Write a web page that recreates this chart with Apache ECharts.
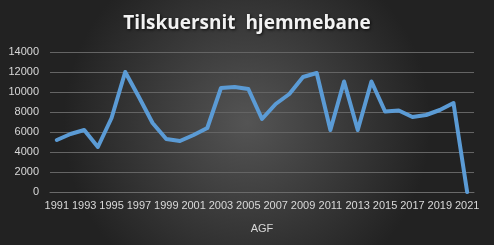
<!DOCTYPE html>
<html><head><meta charset="utf-8">
<script src="https://cdn.jsdelivr.net/npm/echarts@6/dist/echarts.min.js"></script>
<style>html,body{margin:0;padding:0;background:#333;}#c{width:494px;height:245px;}</style>
</head><body><div id="c"></div>
<script>
const years = ['1991','1992','1993','1994','1995','1996','1997','1998','1999','2000','2001','2002','2003','2004','2005','2006','2007','2008','2009','2010','2011','2012','2013','2014','2015','2016','2017','2018','2019','2020','2021'];
const attendance = [5200,5800,6200,4500,7400,12000,9500,6900,5300,5100,5700,6400,10400,10500,10300,7300,8800,9800,11500,11900,6200,11050,6200,11050,8050,8150,7500,7700,8200,8900,0];
const titleText = 'Tilskuersnit  hjemmebane';
const axisTitle = 'AGF';
const yMin = 0, yMax = 14000, yStep = 2000;

const chart = echarts.init(document.getElementById('c'), null, {renderer:'canvas'});
chart.setOption({
  backgroundColor: {type:'radial', x:0.5, y:0.5, r:0.75, colorStops:[{offset:0,color:'#545454'},{offset:1,color:'#222222'}]},
  title: {text:titleText, left:'center', top:9,
    textStyle:{color:'#f2f2f2', fontFamily:'Open Sans', fontWeight:'bold', fontSize:19,
      textShadowColor:'rgba(0,0,0,0.8)', textShadowBlur:3, textShadowOffsetX:1, textShadowOffsetY:1}},
  grid: {left:50, right:20, top:52, bottom:53},
  xAxis: {type:'category', data:years, boundaryGap:true, name:axisTitle, nameLocation:'middle', nameGap:31,
    nameTextStyle:{color:'#d9d9d9', fontFamily:'Liberation Sans', fontSize:11},
    axisLine:{lineStyle:{color:'#6a6a6a', width:1}}, axisTick:{show:false},
    axisLabel:{interval:1, color:'#d9d9d9', fontFamily:'Liberation Sans', fontSize:11, margin:8, hideOverlap:false}},
  yAxis: {type:'value', min:yMin, max:yMax, interval:yStep,
    axisLine:{show:false}, axisTick:{show:false},
    axisLabel:{color:'#d9d9d9', fontFamily:'Liberation Sans', fontSize:11, margin:11, formatter: v => String(v)},
    splitLine:{lineStyle:{color:'#646464', width:1}}},
  series: [{type:'line', data:attendance, symbol:'none', lineStyle:{color:'#5b9bd5', width:4, cap:'round', join:'round'}}]
});
</script></body></html>
